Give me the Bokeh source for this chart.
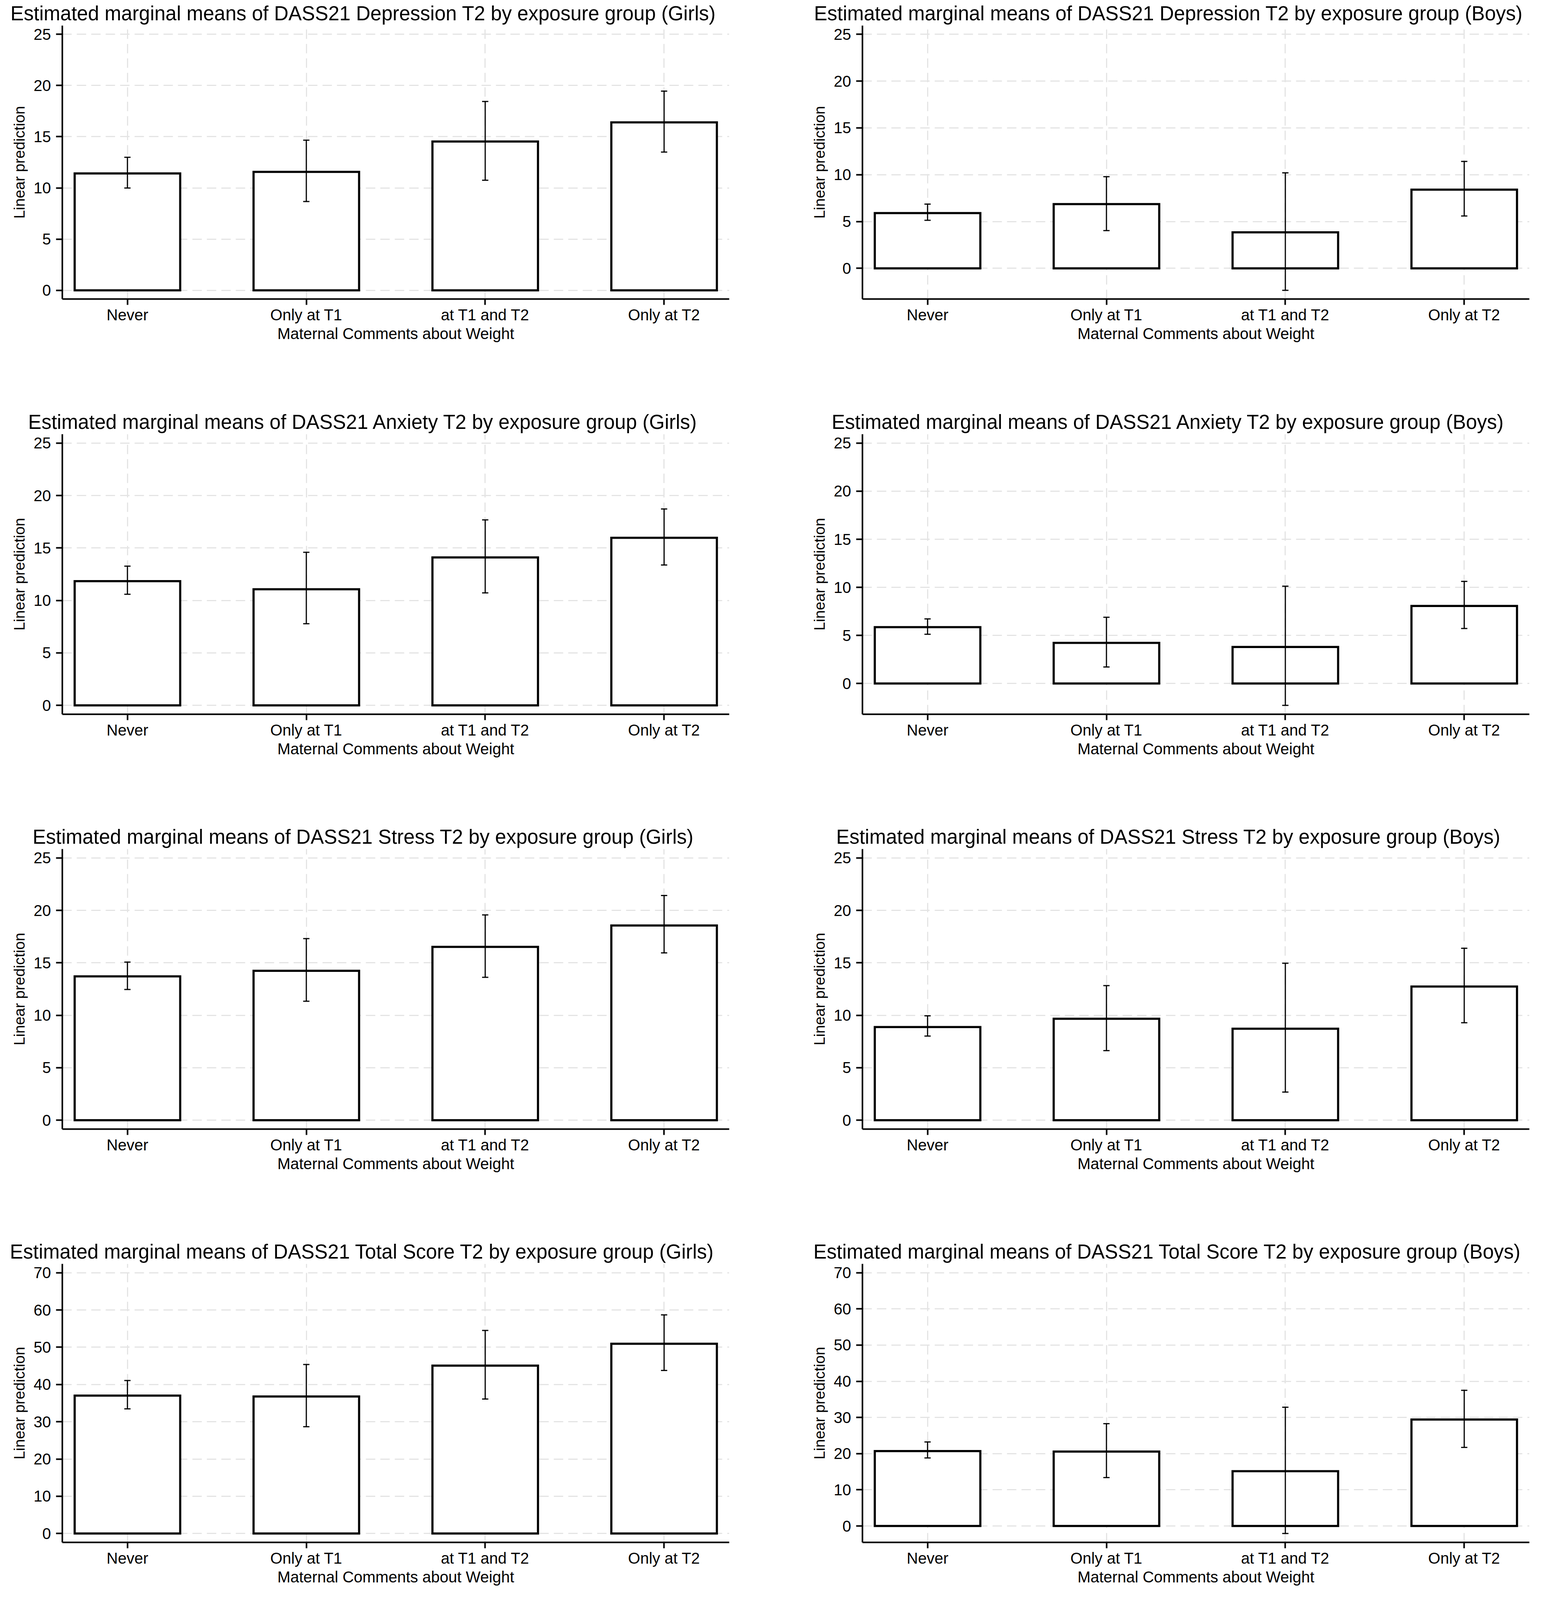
from bokeh.plotting import figure
from bokeh.layouts import gridplot
from bokeh.models import Range1d, FixedTicker
from bokeh.embed import file_html
from bokeh.resources import INLINE

# ---------------- data ----------------
categories = ["Never", "Only at T1", "at T1 and T2", "Only at T2"]
x_title = "Maternal Comments about Weight"
y_title = "Linear prediction"

ticks_25 = [0, 5, 10, 15, 20, 25]
ticks_70 = [0, 10, 20, 30, 40, 50, 60, 70]

titles = [
    "Estimated marginal means of DASS21 Depression T2 by exposure group (Girls)",
    "Estimated marginal means of DASS21 Depression T2 by exposure group (Boys)",
    "Estimated marginal means of DASS21 Anxiety T2 by exposure group (Girls)",
    "Estimated marginal means of DASS21 Anxiety T2 by exposure group (Boys)",
    "Estimated marginal means of DASS21 Stress T2 by exposure group (Girls)",
    "Estimated marginal means of DASS21 Stress T2 by exposure group (Boys)",
    "Estimated marginal means of DASS21 Total Score T2 by exposure group (Girls)",
    "Estimated marginal means of DASS21 Total Score T2 by exposure group (Boys)",
]

dep_girls_mean = [11.41, 11.57, 14.53, 16.40]
dep_girls_lo = [9.99, 8.67, 10.75, 13.50]
dep_girls_hi = [12.99, 14.66, 18.44, 19.45]

dep_boys_mean = [5.90, 6.86, 3.84, 8.40]
dep_boys_lo = [5.13, 4.03, -2.35, 5.59]
dep_boys_hi = [6.86, 9.79, 10.20, 11.42]

anx_girls_mean = [11.84, 11.07, 14.10, 15.97]
anx_girls_lo = [10.59, 7.78, 10.72, 13.38]
anx_girls_hi = [13.27, 14.59, 17.68, 18.72]

anx_boys_mean = [5.86, 4.23, 3.80, 8.06]
anx_boys_lo = [5.12, 1.72, -2.27, 5.72]
anx_boys_hi = [6.72, 6.89, 10.12, 10.62]

str_girls_mean = [13.71, 14.24, 16.52, 18.56]
str_girls_lo = [12.46, 11.34, 13.62, 15.95]
str_girls_hi = [15.07, 17.31, 19.57, 21.42]

str_boys_mean = [8.88, 9.67, 8.72, 12.74]
str_boys_lo = [8.02, 6.63, 2.68, 9.29]
str_boys_hi = [9.95, 12.83, 14.96, 16.39]

tot_girls_mean = [37.02, 36.77, 45.06, 50.95]
tot_girls_lo = [33.46, 28.67, 36.10, 43.77]
tot_girls_hi = [41.07, 45.37, 54.51, 58.69]

tot_boys_mean = [20.70, 20.58, 15.15, 29.42]
tot_boys_lo = [18.81, 13.38, -2.08, 21.72]
tot_boys_hi = [23.23, 28.28, 32.83, 37.50]

panels = [
    (titles[0], dep_girls_mean, dep_girls_lo, dep_girls_hi, ticks_25),
    (titles[1], dep_boys_mean, dep_boys_lo, dep_boys_hi, ticks_25),
    (titles[2], anx_girls_mean, anx_girls_lo, anx_girls_hi, ticks_25),
    (titles[3], anx_boys_mean, anx_boys_lo, anx_boys_hi, ticks_25),
    (titles[4], str_girls_mean, str_girls_lo, str_girls_hi, ticks_25),
    (titles[5], str_boys_mean, str_boys_lo, str_boys_hi, ticks_25),
    (titles[6], tot_girls_mean, tot_girls_lo, tot_girls_hi, ticks_70),
    (titles[7], tot_boys_mean, tot_boys_lo, tot_boys_hi, ticks_70),
]

# ---------------- style ----------------
FONT = "Liberation Sans"
TITLE_PX = 51
# Arial / Liberation Sans advance widths (per 1000 em) used to centre titles
ADV = {" ": 278, "(": 333, ")": 333, "1": 556, "2": 556, "A": 667, "B": 667,
       "D": 722, "E": 667, "G": 778, "S": 667, "T": 611, "a": 556, "b": 556,
       "c": 500, "d": 556, "e": 556, "f": 278, "g": 556, "h": 556, "i": 222,
       "l": 222, "m": 833, "n": 556, "o": 556, "p": 556, "r": 333, "s": 500,
       "t": 278, "u": 556, "x": 500, "y": 500}

LEFT = 159
FRAME_W = 1707
WIDTHS = [2048, 1888]
TOP = 63
ROW_H = [1046, 1062, 1062, 891]
BOTTOMS = [281, 280, 280, 109]
TITLE_CENTER = [929, 942]        # title centre, in figure pixels, per column
GRID_COLOR = "#e4e4e4"


def text_width(s, size):
    return sum(ADV.get(ch, 556) for ch in s) * size / 1000.0


def make_panel(idx, title, mean, lo, hi, ticks):
    row_i, col_i = divmod(idx, 2)
    xs = list(range(1, len(categories) + 1))
    lo_edge = min(0, min(lo))
    hi_edge = max(ticks[-1], max(hi))
    pad = 0.034 * (hi_edge - lo_edge)
    p = figure(
        width=WIDTHS[col_i], height=ROW_H[row_i],
        x_range=Range1d(xs[0] - 0.364, xs[-1] + 0.364),
        y_range=Range1d(lo_edge - pad, hi_edge + pad),
        output_backend="svg", toolbar_location=None,
        min_border_left=LEFT,
        min_border_right=WIDTHS[col_i] - LEFT - FRAME_W,
        min_border_top=TOP, min_border_bottom=BOTTOMS[row_i],
        background_fill_color="white", border_fill_color="white",
    )
    p.outline_line_color = None

    p.title.text = title
    p.title.align = "left"
    p.title.offset = TITLE_CENTER[col_i] - text_width(title, TITLE_PX) / 2 - LEFT
    p.title.text_font = FONT
    p.title.text_font_size = "%dpx" % TITLE_PX
    p.title.text_font_style = "normal"
    p.title.text_color = "black"
    p.title.standoff = 6

    # bars
    p.vbar(x=xs, top=mean, bottom=0, width=0.59, fill_color="white",
           line_color="black", line_width=5.5, line_join="miter")
    # 95% CI error bars with caps
    p.segment(x0=xs, y0=lo, x1=xs, y1=hi, line_color="black", line_width=3)
    p.scatter(x=xs + xs, y=lo + hi, marker="dash", size=16,
              line_color="black", line_width=3)

    # axes
    p.xaxis.ticker = FixedTicker(ticks=xs)
    p.xaxis.major_label_overrides = {x: c for x, c in zip(xs, categories)}
    p.yaxis.ticker = FixedTicker(ticks=ticks)
    p.xgrid.ticker = FixedTicker(ticks=xs)
    p.ygrid.ticker = FixedTicker(ticks=ticks)

    p.xaxis.axis_label = x_title
    p.yaxis.axis_label = y_title
    for ax in (p.xaxis, p.yaxis):
        ax.axis_line_width = 4
        ax.axis_line_color = "black"
        ax.major_tick_line_width = 4
        ax.major_tick_line_color = "black"
        ax.major_tick_in = 0
        ax.minor_tick_line_color = None
        ax.major_label_text_font = FONT
        ax.major_label_text_color = "black"
        ax.axis_label_text_font = FONT
        ax.axis_label_text_font_style = "normal"
        ax.axis_label_text_color = "black"
    p.xaxis.major_tick_out = 15
    p.yaxis.major_tick_out = 16
    p.xaxis.major_label_text_font_size = "40px"
    p.xaxis.axis_label_text_font_size = "40px"
    p.xaxis.major_label_standoff = 3
    p.xaxis.axis_label_standoff = 1
    p.yaxis.major_label_text_font_size = "40px"
    p.yaxis.axis_label_text_font_size = "39px"
    p.yaxis.major_label_standoff = 13
    p.yaxis.axis_label_standoff = 12

    for g in (p.xgrid, p.ygrid):
        g.grid_line_color = GRID_COLOR
        g.grid_line_width = 3
        g.grid_line_dash = "24 13"
    return p


figs = [make_panel(i, *pn) for i, pn in enumerate(panels)]
layout = gridplot([[figs[0], figs[1]], [figs[2], figs[3]],
                   [figs[4], figs[5]], [figs[6], figs[7]]],
                  toolbar_location=None)

open("out.html", "w").write(file_html(layout, INLINE))
